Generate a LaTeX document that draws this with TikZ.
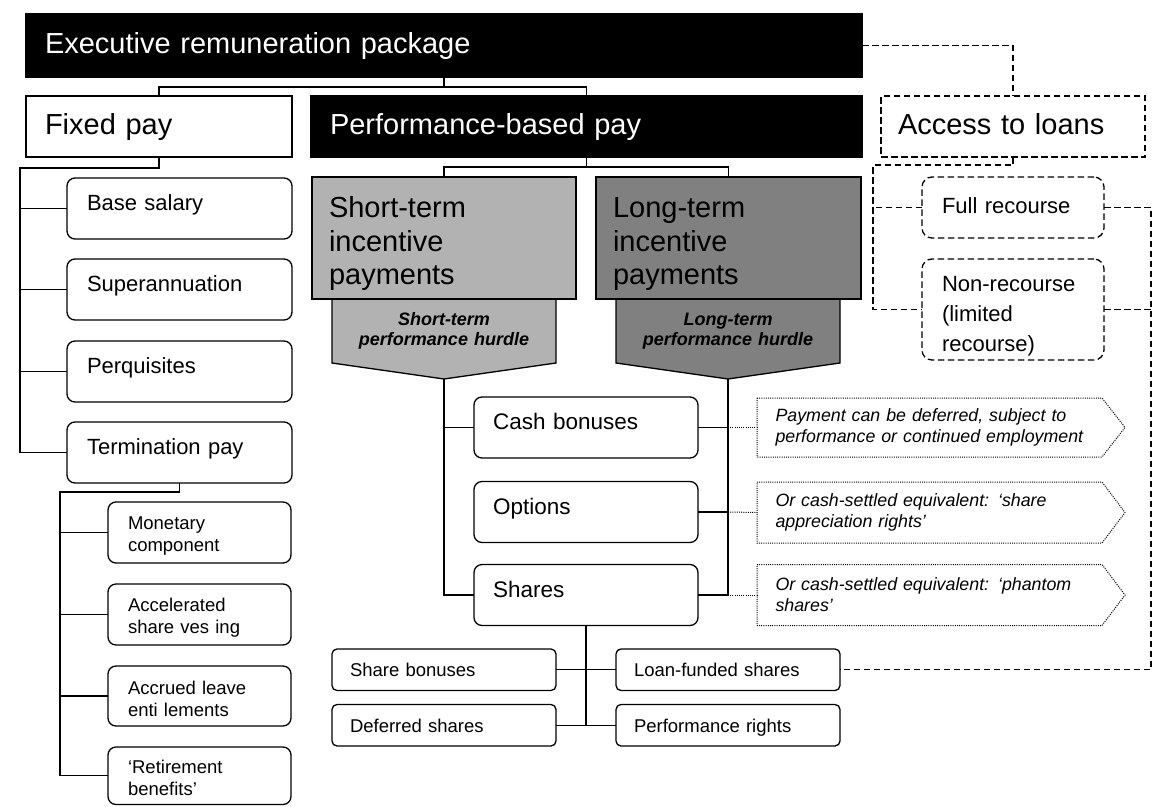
\documentclass[tikz,border=0pt]{standalone}
\usepackage{fontspec}
\setmainfont{Liberation Sans}
\pgfdeclarelayer{bg}
\pgfsetlayers{bg,main}
\definecolor{stgray}{RGB}{178,178,178}
\definecolor{ltgray}{RGB}{128,128,128}
\newcommand{\fbig}{\fontsize{29pt}{33.5pt}\selectfont}
\newcommand{\fmid}{\fontsize{22pt}{30pt}\selectfont}
\newcommand{\fcash}{\fontsize{22.5pt}{27pt}\selectfont}
\newcommand{\fsm}{\fontsize{18.5pt}{22pt}\selectfont}
\newcommand{\fhur}{\fontsize{18pt}{19.5pt}\selectfont\bfseries\itshape}
\newcommand{\fcall}{\fontsize{17.8pt}{21pt}\selectfont\itshape}
\newcommand{\lowerby}[1]{\rule{0pt}{#1}}
\begin{document}
\begin{tikzpicture}[x=1pt,y=-1pt,
  every node/.style={outer sep=0pt},
  basebox/.style={anchor=north west, inner ysep=0pt, align=left, line width=1.3pt},
  big/.style={basebox, font=\fbig, inner xsep=19pt, text height=21pt, text depth=6pt},
  blackbox/.style={big, draw=black, fill=black, text=white},
  whitebox/.style={big, draw=black, fill=white},
  dashln/.style={line width=1.3pt, dash pattern=on 6.5pt off 3.5pt},
  dotln/.style={line width=1pt, dash pattern=on 1pt off 1.2pt},
  conn/.style={line width=1.4pt},
  dashbox/.style={big, draw, dashln},
  gbox/.style={basebox, draw=black, font=\fbig, inner xsep=17pt},
  hurdle/.style={anchor=north west, inner sep=0pt, minimum width=224pt, minimum height=64pt, text width=224pt, align=center, font=\fhur},
  recbox/.style={basebox, draw, dashln, rounded corners=10pt, font=\fmid, inner xsep=20pt, minimum width=182pt, text width=142pt},
  lbox/.style={basebox, draw, rounded corners=8pt, font=\fmid, inner xsep=20pt, minimum width=225pt, minimum height=61pt, text width=185pt, text height=16pt, text depth=12pt},
  slbox/.style={basebox, draw, rounded corners=8pt, font=\fsm, inner xsep=20pt, minimum width=183pt, minimum height=61pt, text width=143pt},
  mbox/.style={basebox, draw, rounded corners=8pt, font=\fcash, inner xsep=19pt, minimum width=224pt, minimum height=61pt, text width=186pt, text height=16.5pt, text depth=12.5pt},
  bbox/.style={basebox, draw, rounded corners=5pt, font=\fsm, inner xsep=18pt, minimum width=224pt, minimum height=41.5pt, text width=188pt, text height=13.5pt, text depth=0pt},
  callout/.style={basebox, font=\fcall, inner xsep=18.5pt, minimum width=345pt, text width=308pt}
]
\useasboundingbox (0,0) rectangle (1169,806);

% top level
\node[blackbox, minimum width=836pt, minimum height=63pt, text width=798pt] (top) at (26,14) {Executive remuneration package};
\node[whitebox, minimum width=266pt, minimum height=61pt, text width=228pt] (fixed) at (26,96) {Fixed pay};
\node[blackbox, minimum width=551pt, minimum height=61pt, text width=513pt] (perf) at (311,96) {Performance-based pay};
\node[dashbox, minimum width=264pt, minimum height=61pt, inner xsep=17pt, text width=230pt] (acc) at (881,96) {Access to loans};

% incentive boxes and hurdles
\node[hurdle] (sh) at (332,299) {Short-term\\performance hurdle};
\node[hurdle] (lh) at (616,299) {Long-term\\performance hurdle};
\begin{pgfonlayer}{bg}
\filldraw[fill=stgray, line width=1.3pt] (sh.north west) -- (sh.north east) -- (sh.south east) -- ([yshift=-16pt]sh.south) -- (sh.south west) -- cycle;
\filldraw[fill=ltgray, line width=1.3pt] (lh.north west) -- (lh.north east) -- (lh.south east) -- ([yshift=-16pt]lh.south) -- (lh.south west) -- cycle;
\end{pgfonlayer}
\coordinate (stip) at ([yshift=-16pt]sh.south);
\coordinate (ltip) at ([yshift=-16pt]lh.south);
\node[gbox, fill=stgray, minimum width=264pt, minimum height=122pt, text width=230pt] (st) at (312,177) {\lowerby{33pt}Short-term\\incentive\\payments};
\node[gbox, fill=ltgray, minimum width=265pt, minimum height=122pt, text width=231pt] (lt) at (596,177) {\lowerby{33pt}Long-term\\incentive\\payments};

% loans
\node[recbox, minimum height=61pt, text height=16pt, text depth=5pt] (fr) at (922,177) {Full recourse};
\node[recbox, minimum height=101pt] (nr) at (922,259) {\lowerby{29pt}Non-recourse\\(limited\\recourse)};

% fixed pay items
\node[lbox] (base) at (67,178) {Base salary};
\node[lbox] (super) at (67,259) {Superannuation};
\node[lbox] (perq) at (67,341) {Perquisites};
\node[lbox] (term) at (67,422) {Termination pay};
\node[slbox] (mon) at (108,502) {\lowerby{19pt}Monetary\\component};
\node[slbox] (acl) at (108,584) {\lowerby{19pt}Accelerated\\share ves ing};
\node[slbox, minimum height=60pt] (acr) at (108,666) {\lowerby{19pt}Accrued leave\\enti lements};
\node[slbox, minimum height=57.5pt] (ret) at (108,747) {\lowerby{18pt}‘Retirement\\benefits’};

% performance items
\node[mbox] (cash) at (474,397) {Cash bonuses};
\node[mbox] (opt) at (474,481.5) {Options};
\node[mbox] (shares) at (474,564.5) {Shares};

\node[callout, minimum height=59pt] (cb) at (757,398) {Payment can be deferred, subject to\\performance or continued employment};
\node[callout, minimum height=61pt] (oc) at (757,482) {Or cash-settled equivalent: ‘share\\appreciation rights’};
\node[callout, minimum height=61pt] (sc) at (757,564.5) {Or cash-settled equivalent: ‘phantom\\shares’};
\foreach \c in {cb,oc,sc}
  \draw[dotln] (\c.north west) -- (\c.north east) -- ([xshift=23pt]\c.east) -- (\c.south east) -- (\c.south west) -- cycle;

\node[bbox] (sb) at (332,649) {Share bonuses};
\node[bbox] (ds) at (332,704.5) {Deferred shares};
\node[bbox] (lf) at (616,649) {Loan-funded shares};
\node[bbox] (pr) at (616,704.5) {Performance rights};

% solid connectors
\draw[conn] (top.south) -- ++(0,10) coordinate (j1) -| (fixed.north) (j1) -| (perf.north);
\draw[conn] (fixed.south) -- ++(0,11) -| ([xshift=-47pt]term.west) -- (term.west);
\foreach \n in {base,super,perq} \draw[conn] (\n.west) -- ++(-47,0);
\draw[conn] (term.south) -- ++(0,9) -| ([xshift=-48pt]ret.west) -- (ret.west);
\foreach \n in {mon,acl,acr} \draw[conn] (\n.west) -- ++(-48,0);
\draw[conn] (perf.south) -- ++(0,10) coordinate (j2) -| (st.north) (j2) -| (lt.north);
\draw[conn] (stip) |- (shares.west) (cash.west) -- (cash.west -| stip);
\draw[conn] (ltip) |- (shares.east) (cash.east) -- (cash.east -| ltip) (opt.east) -- (opt.east -| ltip);
\draw[conn] (shares.south) -- (shares.south |- ds.east) (sb.east) -- (lf.west) (ds.east) -- (pr.west);

% dotted connectors
\draw[dotln] (cash.east -| ltip) -- (cb.west);
\draw[dotln] (opt.east -| ltip) -- (oc.west);
\draw[dotln] (shares.east -| ltip) -- (sc.west);

% dashed connectors
\draw[dashln] (top.east) -| (acc.north);
\draw[dashln] (acc.south) -- ++(0,8) -| ([xshift=-49pt]nr.west) -- (nr.west) (fr.west) -- ++(-49,0);
\draw[dashln] (fr.east) -- ++(47,0) |- (lf.east) (nr.east) -- ++(47,0);
\end{tikzpicture}
\end{document}
